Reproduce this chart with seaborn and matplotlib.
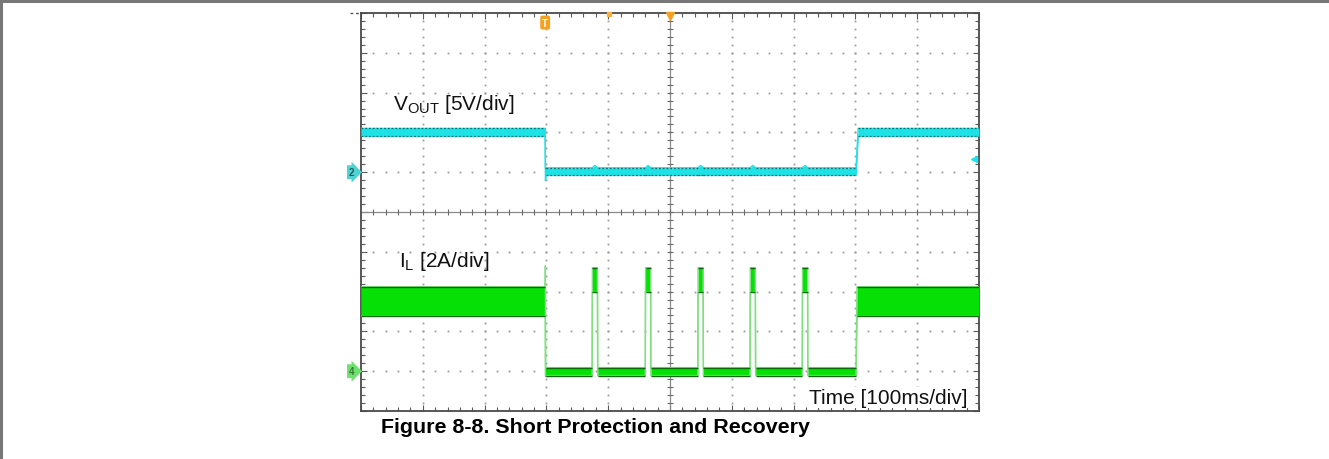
import numpy as np
import pandas as pd
import matplotlib
matplotlib.use("Agg")
import matplotlib.pyplot as plt
import matplotlib.transforms as mtransforms
from matplotlib.lines import Line2D
from matplotlib.collections import LineCollection
import seaborn as sns

# ---------------- data (read from the scope shot) ----------------
# time base: 10 divisions x 100 ms/div -> 0..1000 ms across the screen
t_short = 298.0          # short applied (ms)
t_recover = 801.0        # short removed (ms)
pulse_start = [374.0, 460.0, 545.0, 629.5, 714.0]   # hiccup restart pulses (ms)
pulse_width = 9.0        # ms

# VOUT envelope (V), 5 V/div, channel-2 ground at +1 div
vout_normal = [4.5, 5.5]
vout_short = [-0.4, 0.55]
vout_dip = -1.05
vout_bump = 0.85
vout_ground_div = 1.0
volts_per_div = 5.0

# IL envelope (A), 2 A/div, channel-4 ground at -4 div
il_normal = [2.76, 4.24]
il_off = [-0.22, 0.18]
il_pulse = [3.97, 5.2]
il_spike = 5.3
il_ground_div = -4.0
amps_per_div = 2.0

# ---------------- build envelopes ----------------
def vout_env():
    rows = [(0.0, *vout_normal), (t_short, *vout_normal),
            (t_short + 0.4, vout_dip, vout_short[1]),
            (t_short + 1.5, *vout_short)]
    for ps in pulse_start:
        rows += [(ps, *vout_short), (ps + pulse_width / 2, vout_short[0], vout_bump),
                 (ps + pulse_width, *vout_short)]
    rows += [(t_recover, *vout_short), (t_recover + 3.5, *vout_normal),
             (1000.0, *vout_normal)]
    df = pd.DataFrame(rows, columns=["t", "lo", "hi"])
    df["lo"] = vout_ground_div + df["lo"] / volts_per_div
    df["hi"] = vout_ground_div + df["hi"] / volts_per_div
    return df


def il_env():
    rows = [(0.0, *il_normal), (t_short, *il_normal),
            (t_short + 0.3, il_off[0], il_spike),
            (t_short + 0.8, *il_off)]
    for ps in pulse_start:
        rows += [(ps, *il_off), (ps + 0.4, *il_pulse),
                 (ps + pulse_width - 0.4, *il_pulse), (ps + pulse_width, *il_off)]
    rows += [(t_recover, *il_off), (t_recover + 1.5, *il_normal),
             (1000.0, *il_normal)]
    df = pd.DataFrame(rows, columns=["t", "lo", "hi"])
    df["lo"] = il_ground_div + df["lo"] / amps_per_div
    df["hi"] = il_ground_div + df["hi"] / amps_per_div
    return df


vdf = vout_env()
idf = il_env()

# ---------------- figure ----------------
sns.set_theme(style="white")
plt.rcParams["font.family"] = ["Liberation Sans", "DejaVu Sans"]
plt.rcParams["mathtext.fontset"] = "custom"
plt.rcParams["mathtext.rm"] = "Liberation Sans"
plt.rcParams["mathtext.it"] = "Liberation Sans"

W, H = 1329, 460
fig = plt.figure(figsize=(W / 100, H / 100), dpi=100)
x0, x1, y0, y1 = 361, 979, 14, 412
ax = fig.add_axes([x0 / W, 1 - y1 / H, (x1 - x0) / W, (y1 - y0) / H])
ax.set_xlim(0, 1000)
ax.set_ylim(-5, 5)

# frame with inward minor ticks
for s in ax.spines.values():
    s.set_color("#4a4a4a")
    s.set_linewidth(1.3)
ax.set_xticks(np.arange(0, 1001, 100))
ax.set_xticks(np.arange(0, 1001, 20), minor=True)
ax.set_yticks(np.arange(-5, 5.01, 1))
ax.set_yticks(np.arange(-5, 5.01, 0.2), minor=True)
ax.tick_params(which="both", direction="in", top=True, right=True, bottom=True, left=True,
               labelbottom=False, labelleft=False, color="#5a5a5a", width=0.8)
ax.tick_params(which="major", length=4)
ax.tick_params(which="minor", length=3)

# dotted graticule
minor_x = np.arange(20, 1000, 20)
minor_y = np.round(np.arange(-4.8, 5.0, 0.2), 2)
gx, gy = [], []
for r in range(-4, 5):
    if r == 0:
        continue
    gx += list(minor_x)
    gy += [r] * len(minor_x)
for c in range(100, 1000, 100):
    if c == 500:
        continue
    gx += [c] * len(minor_y)
    gy += list(minor_y)
ax.plot(gx, gy, ls="none", marker="s", ms=1.3, mew=0, color="#9c9c9c", zorder=1)

# centre crosshair with ticks
ax.axhline(0, color="#8a8a8a", lw=0.9, zorder=1)
ax.axvline(500, color="#8a8a8a", lw=0.9, zorder=1)
ax.plot([500] * len(minor_y), minor_y, ls="none", marker="_", ms=5, mew=0.8, color="#6a6a6a", zorder=1)
ax.plot(minor_x, [0] * len(minor_x), ls="none", marker="|", ms=5, mew=0.8, color="#6a6a6a", zorder=1)


def flat_edges(df, col):
    segs = []
    t = df["t"].values
    v = df[col].values
    for i in range(len(t) - 1):
        if abs(v[i] - v[i + 1]) < 1e-9:
            segs.append([(t[i], v[i]), (t[i + 1], v[i + 1])])
    return segs


# VOUT trace
cyan = "#1ee3e6"
ax.fill_between(vdf["t"], vdf["lo"], vdf["hi"], color=cyan, lw=0, zorder=3)
sns.lineplot(data=vdf, x="t", y="hi", ax=ax, color=cyan, lw=1.0, estimator=None, sort=False, zorder=3)
sns.lineplot(data=vdf, x="t", y="lo", ax=ax, color=cyan, lw=1.0, estimator=None, sort=False, zorder=3)
ax.add_collection(LineCollection(flat_edges(vdf, "hi") + flat_edges(vdf, "lo"),
                                 colors="#1a6b6b", linewidths=0.9, linestyles=(0, (1.5, 1.5)), zorder=4))

# IL trace
green = "#05e005"
ax.fill_between(idf["t"], idf["lo"], idf["hi"], color=green, lw=0, zorder=3)
sns.lineplot(data=idf, x="t", y="hi", ax=ax, color="#7fe07f", lw=1.0, estimator=None, sort=False, zorder=3)
sns.lineplot(data=idf, x="t", y="lo", ax=ax, color="#7fe07f", lw=1.0, estimator=None, sort=False, zorder=3)
ax.add_collection(LineCollection(flat_edges(idf, "hi") + flat_edges(idf, "lo"),
                                 colors="#0b6b0b", linewidths=1.0, zorder=4))
ax.set_xlabel("")
ax.set_ylabel("")

# labels
ax.text(0.052, 0.759, r"V$_{\rm OUT}$ [5V/div]", transform=ax.transAxes, fontsize=15,
        va="baseline", ha="left", color="#111111", zorder=6)
ax.text(0.0615, 0.365, r"I$_{\rm L}$ [2A/div]", transform=ax.transAxes, fontsize=15,
        va="baseline", ha="left", color="#111111", zorder=6)
ax.text(0.981, 0.020, "Time [100ms/div]", transform=ax.transAxes, fontsize=15,
        va="baseline", ha="right", color="#111111", zorder=6,
        bbox=dict(boxstyle="square,pad=0.05", fc="white", ec="none"))

# channel / trigger markers
blend = mtransforms.blended_transform_factory(ax.transAxes, ax.transData)
ax.text(-0.015, vout_ground_div, "2", transform=blend, fontsize=7, fontweight="bold",
        color="#1f5f5f", ha="center", va="center", clip_on=False, zorder=6,
        bbox=dict(boxstyle="rarrow,pad=0.2", fc="#4fd2d2", ec="none"))
ax.text(-0.015, il_ground_div, "4", transform=blend, fontsize=7, fontweight="bold",
        color="#2f7f2f", ha="center", va="center", clip_on=False, zorder=6,
        bbox=dict(boxstyle="rarrow,pad=0.2", fc="#6fdf6f", ec="none"))
ax.text(t_short, 4.76, "T", fontsize=7, fontweight="bold", color="white", ha="center",
        va="center", zorder=6, bbox=dict(boxstyle="round,pad=0.2", fc="#f5a020", ec="none"))
ax.plot([500], [4.93], marker="v", ms=6, color="#f5a020", clip_on=False, zorder=6)
ax.plot([401], [4.97], marker="s", ms=2.5, color="#f5b040", clip_on=False, zorder=6)
ax.plot([992], [1.33], marker="<", ms=5, color=cyan, clip_on=False, zorder=6)
ax.plot([-0.018, -0.004], [1.0, 1.0], transform=ax.transAxes, color="#555555",
        lw=1.0, ls=(0, (2, 2)), clip_on=False)

# caption
fig.text(595.5 / W, 1 - 433 / H, "Figure 8-8. Short Protection and Recovery",
         family=["Liberation Sans", "DejaVu Sans"],
         fontweight="bold", fontsize=15.4, ha="center", va="baseline", color="black")

# outer page border (top + left)
fig.add_artist(Line2D([0, 1], [1 - 1.5 / H, 1 - 1.5 / H], transform=fig.transFigure,
                      color="#777777", lw=2.2))
fig.add_artist(Line2D([1 / W, 1 / W], [0, 1], transform=fig.transFigure,
                      color="#777777", lw=2.2))

fig.savefig("out.png", dpi=100)
